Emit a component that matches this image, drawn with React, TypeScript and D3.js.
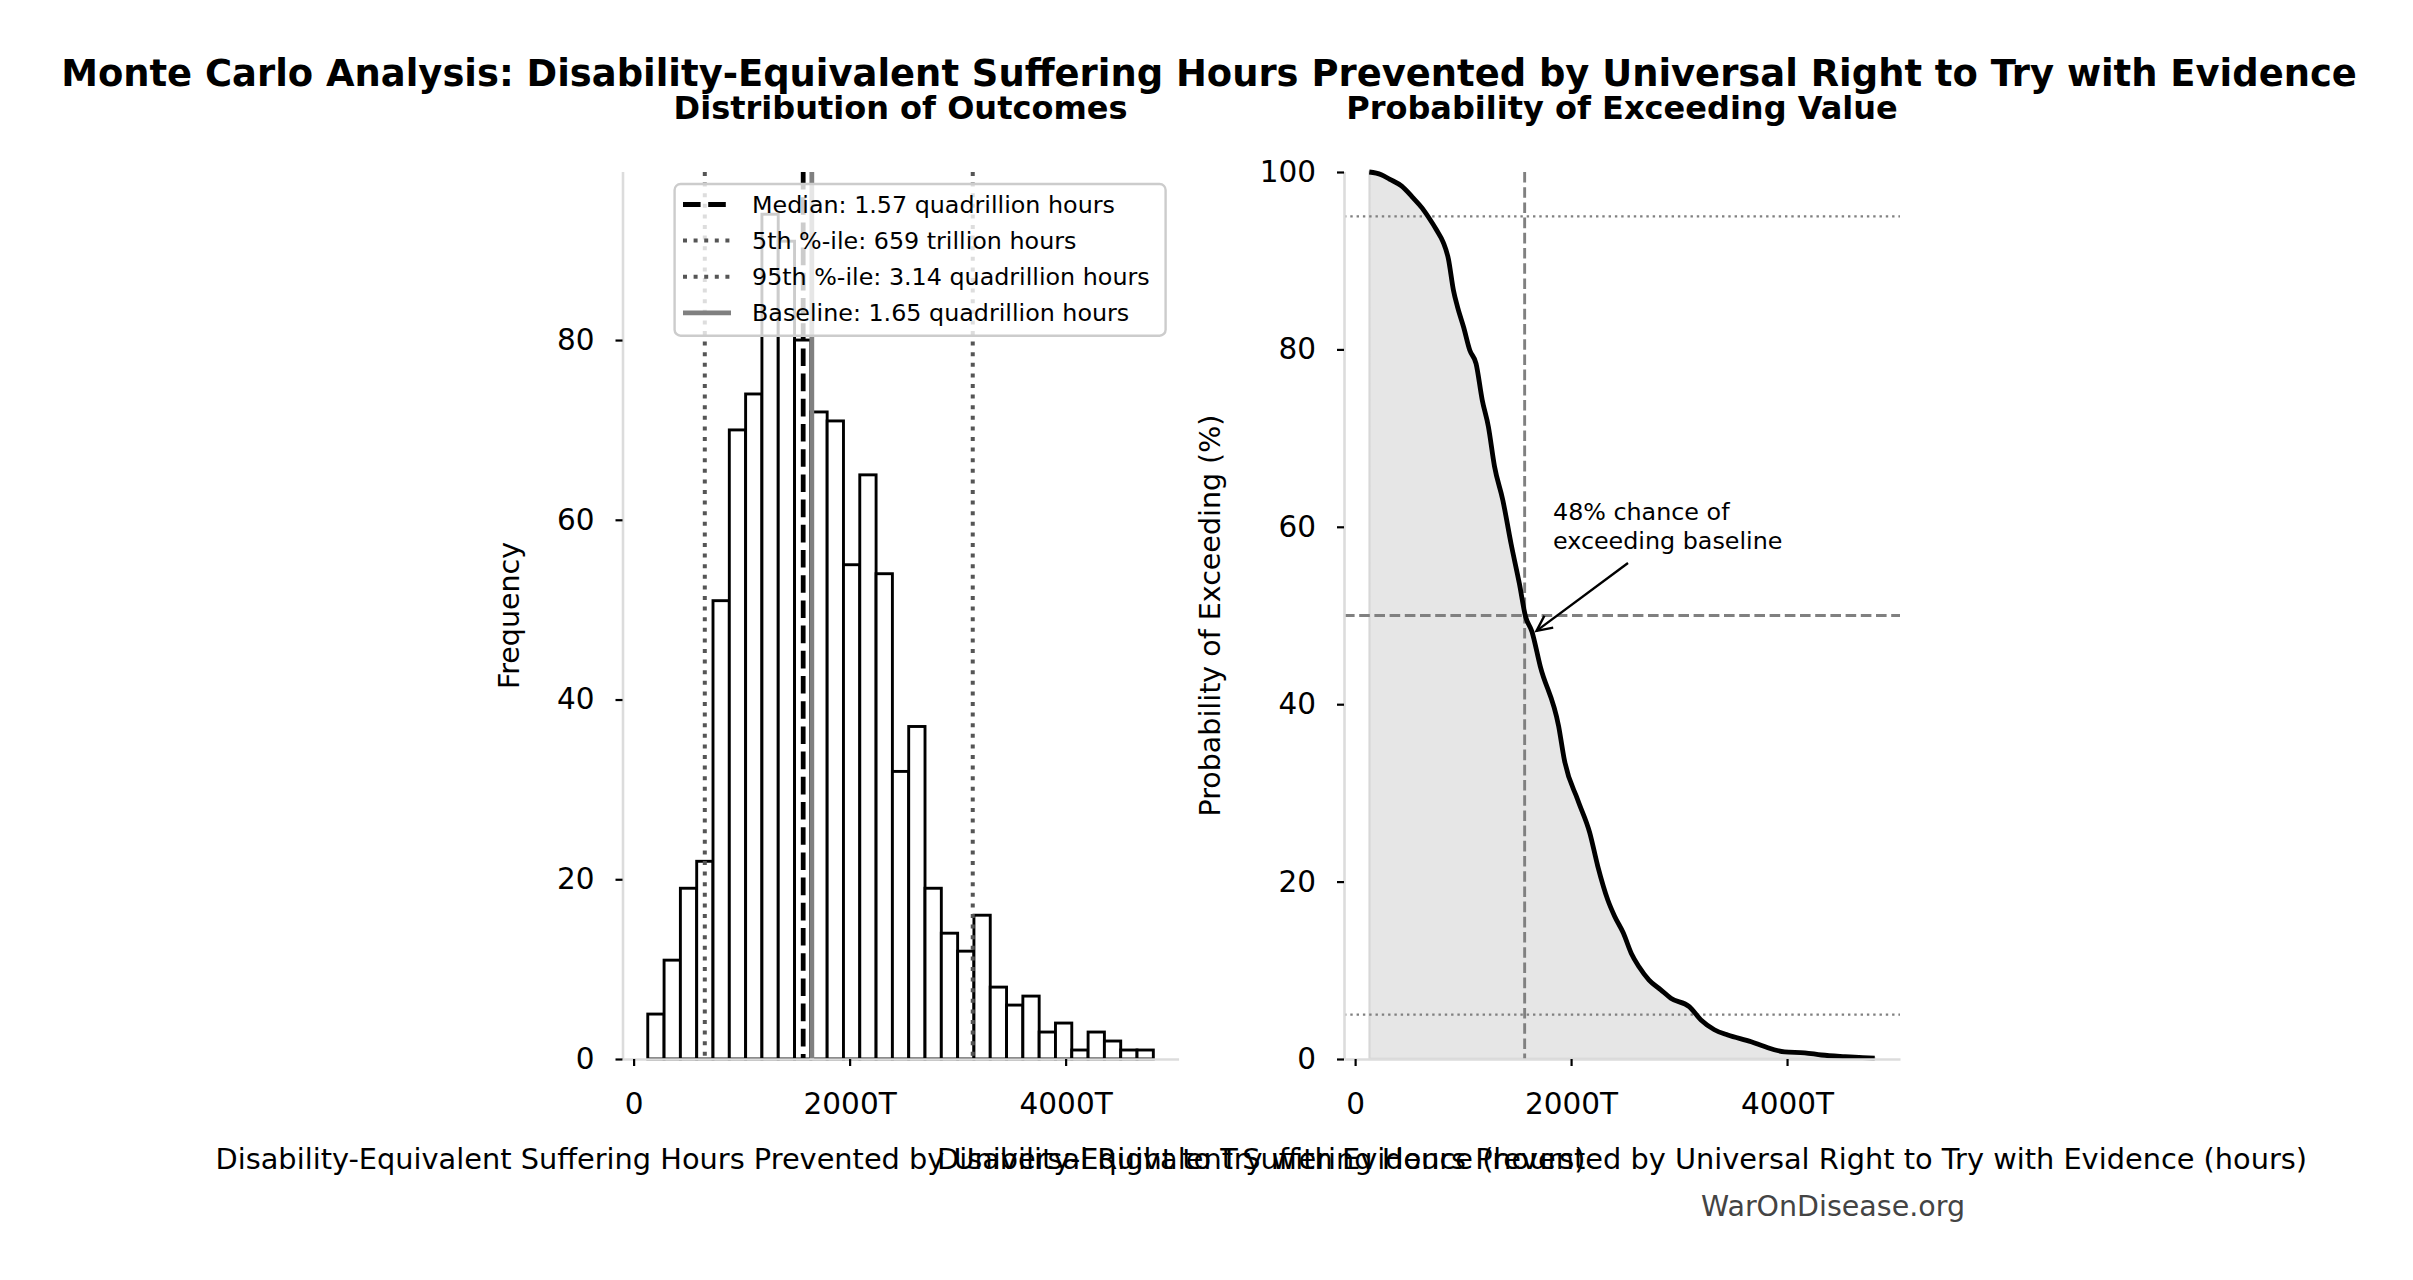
import { useEffect, useRef } from "react";
import * as d3 from "d3";

// histogram of 1000 Monte Carlo samples (values in trillion hours)
const binEdges = [
  131, 282, 433, 584, 735, 886, 1037, 1188, 1339, 1490, 1641, 1792, 1943, 2094,
  2245, 2396, 2547, 2698, 2849, 3000, 3151, 3302, 3453, 3604, 3755, 3906, 4057,
  4208, 4359, 4510, 4661, 4812,
];
const binCounts = [
  5, 11, 19, 22, 51, 70, 74, 94, 91, 80, 72, 71, 55, 65, 54, 32, 37, 19, 14, 12,
  16, 8, 6, 7, 3, 4, 1, 3, 2, 1, 1,
];

// exceedance curve
const exceedValue = [
  131, 242, 318, 432, 528, 623, 680, 757, 815, 864, 910, 948, 1005, 1062, 1120,
  1177, 1234, 1291, 1368, 1444, 1521, 1578, 1637, 1714, 1885, 1938, 2062, 2173,
  2248, 2341, 2403, 2484, 2558, 2629, 2722, 2831, 2924, 3094, 3203, 3327, 3451,
  3668, 3792, 3978, 4164, 4319, 4536, 4700, 4812,
];
const exceedPct = [
  100, 99.7, 99.2, 98.4, 97.2, 95.9, 94.9, 93.4, 92.1, 90.2, 86.7, 84.8, 82.5,
  79.9, 78.4, 74.3, 71.3, 66.8, 63.0, 58.1, 53.6, 49.9, 48.2, 44.3, 37.5, 33.7,
  29.2, 25.5, 21.7, 17.9, 16.1, 14.2, 11.9, 10.4, 8.9, 7.8, 6.85, 5.9, 4.4, 3.3,
  2.7, 1.95, 1.4, 0.8, 0.7, 0.45, 0.26, 0.15, 0.1,
];

const medianValue = 1570;
const p5Value = 659;
const p95Value = 3140;
const baselineValue = 1650;
const baselineExceedPct = 48;

const xTicks = [0, 2000, 4000];
const yTicksHist = [0, 20, 40, 60, 80];
const yTicksExceed = [0, 20, 40, 60, 80, 100];

const legendLabels = [
  "Median: 1.57 quadrillion hours",
  "5th %-ile: 659 trillion hours",
  "95th %-ile: 3.14 quadrillion hours",
  "Baseline: 1.65 quadrillion hours",
];

const suptitle =
  "Monte Carlo Analysis: Disability-Equivalent Suffering Hours Prevented by Universal Right to Try with Evidence";
const xLabel =
  "Disability-Equivalent Suffering Hours Prevented by Universal Right to Try with Evidence (hours)";

const W = 2413;
const H = 1280;
const FONT = "'DejaVu Sans', sans-serif";

export default function App() {
  const svgRef = useRef<SVGSVGElement>(null);

  useEffect(() => {
    document.body.style.margin = "0";
    if (!svgRef.current) return;
    const svg = d3.select(svgRef.current);
    svg.selectAll("*").remove();
    svg.attr("font-family", FONT);

    svg.append("rect").attr("width", W).attr("height", H).attr("fill", "white");

    const top = 172;
    const bottom = 1059;
    const xDomain: [number, number] = [-103, 5046];

    const x1 = d3.scaleLinear().domain(xDomain).range([622.5, 1178.6]);
    const x2 = d3.scaleLinear().domain(xDomain).range([1344, 1900]);
    const y1 = d3.scaleLinear().domain([0, 98.7]).range([bottom, top]);
    const y2 = d3.scaleLinear().domain([0, 100]).range([bottom, top]);

    const fmtX = (d: d3.NumberValue) => (+d === 0 ? "0" : `${d}T`);

    // titles
    svg
      .append("text")
      .attr("x", 1209)
      .attr("y", 86)
      .attr("text-anchor", "middle")
      .attr("font-weight", "bold")
      .attr("font-size", 36.9)
      .text(suptitle);

    const panelTitle = (x: number, t: string) =>
      svg
        .append("text")
        .attr("x", x)
        .attr("y", 119)
        .attr("text-anchor", "middle")
        .attr("font-weight", "bold")
        .attr("font-size", 32)
        .text(t);
    panelTitle((622.5 + 1178.6) / 2, "Distribution of Outcomes");
    panelTitle((1344 + 1900) / 2, "Probability of Exceeding Value");

    // ---------- left: histogram ----------
    const g1 = svg.append("g");
    const bins = binCounts.map((c, i) => ({ x0: binEdges[i], x1: binEdges[i + 1], c }));

    g1.selectAll("rect.bar")
      .data(bins)
      .enter()
      .append("rect")
      .attr("class", "bar")
      .attr("x", (d) => x1(d.x0))
      .attr("y", (d) => y1(d.c))
      .attr("width", (d) => x1(d.x1) - x1(d.x0))
      .attr("height", (d) => y1(0) - y1(d.c))
      .attr("fill", "white")
      .attr("stroke", "black")
      .attr("stroke-width", 2.9);

    const vline = (
      g: d3.Selection<SVGGElement, unknown, null, undefined>,
      x: number,
      color: string,
      width: number,
      dash: string | null,
    ) =>
      g
        .append("line")
        .attr("x1", x)
        .attr("x2", x)
        .attr("y1", top)
        .attr("y2", bottom)
        .attr("stroke", color)
        .attr("stroke-width", width)
        .attr("stroke-dasharray", dash);

    vline(g1, x1(medianValue), "black", 4.76, "17.6,7.6");
    vline(g1, x1(p5Value), "#555555", 4, "4,6.6");
    vline(g1, x1(p95Value), "#555555", 4, "4,6.6");
    vline(g1, x1(baselineValue), "#808080", 4.76, null);

    // ---------- right: exceedance ----------
    const g2 = svg.append("g");
    const pts = exceedValue.map((v, i) => ({ v, p: exceedPct[i] }));

    g2.append("path")
      .datum(pts)
      .attr(
        "d",
        d3
          .area<{ v: number; p: number }>()
          .curve(d3.curveMonotoneX)
          .x((d) => x2(d.v))
          .y0(y2(0))
          .y1((d) => y2(d.p)),
      )
      .attr("fill", "#808080")
      .attr("fill-opacity", 0.2)
      .attr("stroke", "#808080")
      .attr("stroke-opacity", 0.2)
      .attr("stroke-width", 2.4);

    const hline = (y: number, width: number, dash: string) =>
      g2
        .append("line")
        .attr("x1", 1344)
        .attr("x2", 1900)
        .attr("y1", y)
        .attr("y2", y)
        .attr("stroke", "#808080")
        .attr("stroke-width", width)
        .attr("stroke-dasharray", dash);

    hline(y2(95), 2.4, "2.4,3.9");
    hline(y2(5), 2.4, "2.4,3.9");
    hline(y2(50), 2.9, "10.6,4.6");
    vline(g2, x2(medianValue), "#808080", 2.9, "10.6,4.6");

    g2.append("path")
      .datum(pts)
      .attr(
        "d",
        d3
          .line<{ v: number; p: number }>()
          .curve(d3.curveMonotoneX)
          .x((d) => x2(d.v))
          .y((d) => y2(d.p)),
      )
      .attr("fill", "none")
      .attr("stroke", "black")
      .attr("stroke-width", 4.8)
      .attr("stroke-linejoin", "round");

    // ---------- axes ----------
    const styleAxis = (
      g: d3.Selection<SVGGElement, unknown, null, undefined>,
    ) => {
      g.select(".domain").attr("stroke", "#dcdcdc").attr("stroke-width", 2.6);
      g.selectAll(".tick line").attr("stroke", "black").attr("stroke-width", 2.2);
      g.selectAll(".tick text")
        .attr("fill", "black")
        .attr("font-size", 29.5)
        .attr("font-family", FONT);
    };

    const drawAxes = (
      x: d3.ScaleLinear<number, number>,
      y: d3.ScaleLinear<number, number>,
      yTicks: number[],
    ) => {
      const gx = svg
        .append("g")
        .attr("transform", `translate(0,${bottom})`)
        .call(
          d3
            .axisBottom(x)
            .tickValues(xTicks)
            .tickFormat(fmtX)
            .tickSize(7)
            .tickSizeOuter(0)
            .tickPadding(27),
        );
      styleAxis(gx);
      const gy = svg
        .append("g")
        .attr("transform", `translate(${x.range()[0]},0)`)
        .call(
          d3
            .axisLeft(y)
            .tickValues(yTicks)
            .tickFormat(d3.format("d"))
            .tickSize(7)
            .tickSizeOuter(0)
            .tickPadding(21),
        );
      styleAxis(gy);
      gy.select(".domain").attr("d", `M0.5,${y.range()[0]}V${top}`);
    };

    drawAxes(x1, y1, yTicksHist);
    drawAxes(x2, y2, yTicksExceed);

    // axis labels
    const xLab = (cx: number) =>
      svg
        .append("text")
        .attr("x", cx)
        .attr("y", 1169)
        .attr("text-anchor", "middle")
        .attr("font-size", 28.8)
        .text(xLabel);
    xLab((622.5 + 1178.6) / 2);
    xLab((1344 + 1900) / 2);

    const yLab = (bx: number, t: string) =>
      svg
        .append("text")
        .attr("transform", `translate(${bx},${(top + bottom) / 2}) rotate(-90)`)
        .attr("text-anchor", "middle")
        .attr("font-size", 28.5)
        .text(t);
    yLab(519, "Frequency");
    yLab(1220, "Probability of Exceeding (%)");

    // annotation
    const ax = x2(baselineValue);
    const ay = y2(baselineExceedPct);
    const ann = svg.append("g").attr("font-size", 23.8);
    ann.append("text").attr("x", 1553).attr("y", 520).text("48% chance of");
    ann.append("text").attr("x", 1553).attr("y", 548.6).text("exceeding baseline");
    const sx = 1628;
    const sy = 563;
    const ang = Math.atan2(ay - sy, ax - sx);
    const tipX = ax - Math.cos(ang) * 4;
    const tipY = ay - Math.sin(ang) * 4;
    ann
      .append("line")
      .attr("x1", sx)
      .attr("y1", sy)
      .attr("x2", tipX)
      .attr("y2", tipY)
      .attr("stroke", "black")
      .attr("stroke-width", 2.4);
    const head = 17;
    const spread = 0.45;
    ann
      .append("path")
      .attr(
        "d",
        `M${tipX - head * Math.cos(ang - spread)},${tipY - head * Math.sin(ang - spread)}L${tipX},${tipY}L${tipX - head * Math.cos(ang + spread)},${tipY - head * Math.sin(ang + spread)}`,
      )
      .attr("fill", "none")
      .attr("stroke", "black")
      .attr("stroke-width", 2.4);

    // legend
    const lg = svg.append("g");
    lg.append("rect")
      .attr("x", 674.6)
      .attr("y", 184)
      .attr("width", 491)
      .attr("height", 151.7)
      .attr("rx", 6)
      .attr("fill", "white")
      .attr("fill-opacity", 0.8)
      .attr("stroke", "#cccccc")
      .attr("stroke-width", 2.4);
    const handleStyles = [
      { color: "black", width: 4.76, dash: "17.6,7.6" },
      { color: "#555555", width: 4, dash: "4,6.6" },
      { color: "#555555", width: 4, dash: "4,6.6" },
      { color: "#808080", width: 4.76, dash: null as string | null },
    ];
    legendLabels.forEach((label, i) => {
      const cy = 204.5 + i * 36.1;
      lg.append("line")
        .attr("x1", 683)
        .attr("x2", 731)
        .attr("y1", cy)
        .attr("y2", cy)
        .attr("stroke", handleStyles[i].color)
        .attr("stroke-width", handleStyles[i].width)
        .attr("stroke-dasharray", handleStyles[i].dash);
      lg.append("text")
        .attr("x", 752)
        .attr("y", cy + 8.2)
        .attr("font-size", 23.8)
        .text(label);
    });

    // watermark
    svg
      .append("text")
      .attr("x", 1965)
      .attr("y", 1216)
      .attr("text-anchor", "end")
      .attr("font-size", 28.5)
      .attr("fill", "#444444")
      .text("WarOnDisease.org");
  }, []);

  return (
    <div style={{ width: W, height: H }}>
      <svg ref={svgRef} width={W} height={H} style={{ display: "block" }} />
    </div>
  );
}
